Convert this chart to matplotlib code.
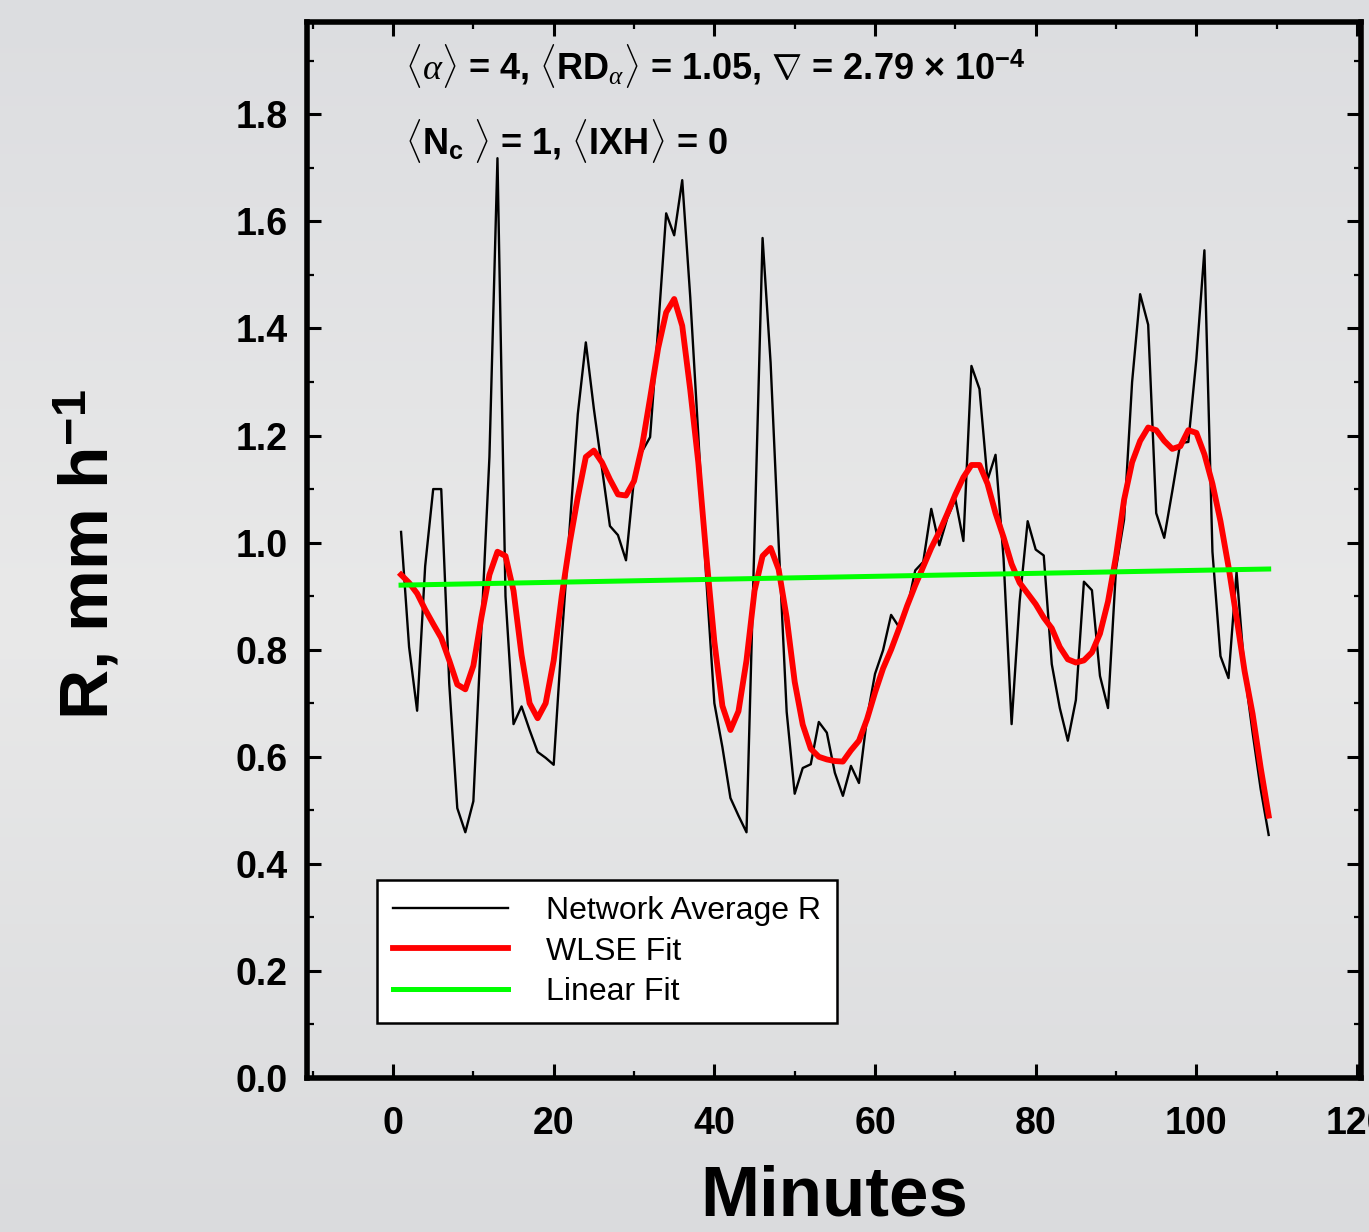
import numpy as np
import matplotlib
matplotlib.use("Agg")
import matplotlib.pyplot as plt
from matplotlib.colors import LinearSegmentedColormap
from matplotlib.ticker import MultipleLocator

plt.rcParams['font.family'] = ['Liberation Sans', 'DejaVu Sans']
plt.rcParams['mathtext.fontset'] = 'custom'
plt.rcParams['mathtext.rm'] = 'Liberation Sans:bold'
plt.rcParams['mathtext.bf'] = 'Liberation Sans:bold'
plt.rcParams['mathtext.it'] = 'Liberation Serif:italic'

# one-minute network average rain rate (mm/h)
minutes = np.arange(1, 110)
rain_avg = [1.02, 0.805, 0.686, 0.956, 1.10, 1.10, 0.736, 0.504, 0.459, 0.517,
            0.84, 1.16, 1.718, 0.90, 0.661, 0.694, 0.65, 0.609, 0.598, 0.585,
            0.82, 1.03, 1.24, 1.374, 1.25, 1.14, 1.031, 1.014, 0.967, 1.12,
            1.17, 1.197, 1.40, 1.615, 1.574, 1.677, 1.458, 1.20, 0.93, 0.70,
            0.618, 0.523, 0.49, 0.459, 1.01, 1.569, 1.336, 1.00, 0.684, 0.531,
            0.579, 0.586, 0.665, 0.645, 0.570, 0.527, 0.583, 0.551, 0.672, 0.755,
            0.799, 0.865, 0.842, 0.877, 0.948, 0.964, 1.063, 0.995, 1.046, 1.081,
            1.003, 1.33, 1.287, 1.117, 1.164, 0.97, 0.661, 0.89, 1.04, 0.987,
            0.976, 0.773, 0.691, 0.630, 0.706, 0.927, 0.911, 0.751, 0.691, 0.952,
            1.043, 1.30, 1.464, 1.407, 1.055, 1.009, 1.096, 1.186, 1.188, 1.343,
            1.546, 0.983, 0.788, 0.747, 0.945, 0.758, 0.645, 0.54, 0.454]

# weighted least squares fit
wlse_fit = [0.94, 0.925, 0.905, 0.875, 0.848, 0.822, 0.78, 0.735, 0.726, 0.77,
            0.86, 0.94, 0.983, 0.975, 0.91, 0.79, 0.70, 0.672, 0.70, 0.78,
            0.90, 1.00, 1.085, 1.16, 1.172, 1.15, 1.118, 1.09, 1.088, 1.115,
            1.18, 1.27, 1.363, 1.43, 1.455, 1.405, 1.285, 1.15, 0.975, 0.815,
            0.695, 0.65, 0.685, 0.78, 0.91, 0.975, 0.99, 0.95, 0.86, 0.74,
            0.66, 0.615, 0.60, 0.595, 0.592, 0.591, 0.612, 0.63, 0.67, 0.72,
            0.765, 0.80, 0.84, 0.882, 0.92, 0.955, 0.99, 1.02, 1.054, 1.09,
            1.122, 1.145, 1.145, 1.11, 1.055, 1.01, 0.96, 0.925, 0.905, 0.885,
            0.86, 0.84, 0.805, 0.782, 0.776, 0.78, 0.795, 0.83, 0.89, 0.975,
            1.08, 1.15, 1.19, 1.215, 1.21, 1.19, 1.175, 1.18, 1.21, 1.205,
            1.165, 1.11, 1.04, 0.955, 0.86, 0.76, 0.68, 0.58, 0.49]

# linear trend
lin_intercept = 0.9203
lin_slope = 2.79e-4
linear_fit = lin_intercept + lin_slope * minutes

fig = plt.figure(figsize=(13.69, 12.32), dpi=100)

# grey backdrop, a bit lighter in the middle
bg = fig.add_axes([0, 0, 1, 1], zorder=-10)
cmap = LinearSegmentedColormap.from_list('bg', ['#dcdde0', '#e9e9e9', '#dadbdd'])
bg.imshow(np.linspace(0, 1, 256).reshape(-1, 1), cmap=cmap, aspect='auto',
          extent=[0, 1, 0, 1])
bg.axis('off')

ax = fig.add_axes([0.2243, 0.125, 0.7699, 0.8574])
ax.patch.set_alpha(0)

ax.plot(minutes, rain_avg, color='black', lw=1.7, label='Network Average R')
ax.plot(minutes, wlse_fit, color='#ff0000', lw=4.2, label='WLSE Fit')
ax.plot(minutes, linear_fit, color='#00ff00', lw=3.6, label='Linear Fit')

ax.set_xlim(-10.7, 120.5)
ax.set_ylim(0, 1.973)
ax.xaxis.set_major_locator(MultipleLocator(20))
ax.xaxis.set_minor_locator(MultipleLocator(10))
ax.yaxis.set_major_locator(MultipleLocator(0.2))
ax.yaxis.set_minor_locator(MultipleLocator(0.1))
ax.yaxis.set_major_formatter(lambda v, p: f'{v:.1f}')

for s in ax.spines.values():
    s.set_linewidth(4)
ax.tick_params(which='both', direction='in', top=True, right=True, color='black')
ax.tick_params(which='major', length=10, width=2.2)
ax.tick_params(which='minor', length=5, width=1.6)
ax.tick_params(axis='x', which='major', pad=20, labelsize=27)
ax.tick_params(axis='y', which='major', pad=14, labelsize=27)
for lbl in ax.get_xticklabels() + ax.get_yticklabels():
    lbl.set_fontweight('bold')

ax.set_xlabel('Minutes', fontsize=51, fontweight='bold', labelpad=16)
fig.text(0.064, 1 - 555 / 1232, r'R, mm h$^{\mathbf{-1}}$', rotation=90,
         ha='center', va='center', fontsize=50, fontweight='bold')

ax.text(0.093, 0.958,
        r'$\langle\alpha\rangle$ = 4, $\langle$RD$_{\alpha}\rangle$ = 1.05, '
        r'$\nabla$ = 2.79 $\times$ 10$^{-4}$',
        transform=ax.transAxes, fontsize=26, fontweight='bold', va='center')
ax.text(0.093, 0.887, r'$\langle$N$_{\mathrm{c}}$ $\rangle$ = 1, $\langle$IXH$\rangle$ = 0',
        transform=ax.transAxes, fontsize=26, fontweight='bold', va='center')

leg = ax.legend(loc='lower left', bbox_to_anchor=(0.0664, 0.052), borderaxespad=0,
                fontsize=23, fancybox=False, framealpha=1, edgecolor='black',
                handlelength=3.6, handletextpad=1.2, labelspacing=0.33,
                borderpad=0.5)
leg.get_frame().set_linewidth(1.8)

fig.savefig('out.png', dpi=100)
